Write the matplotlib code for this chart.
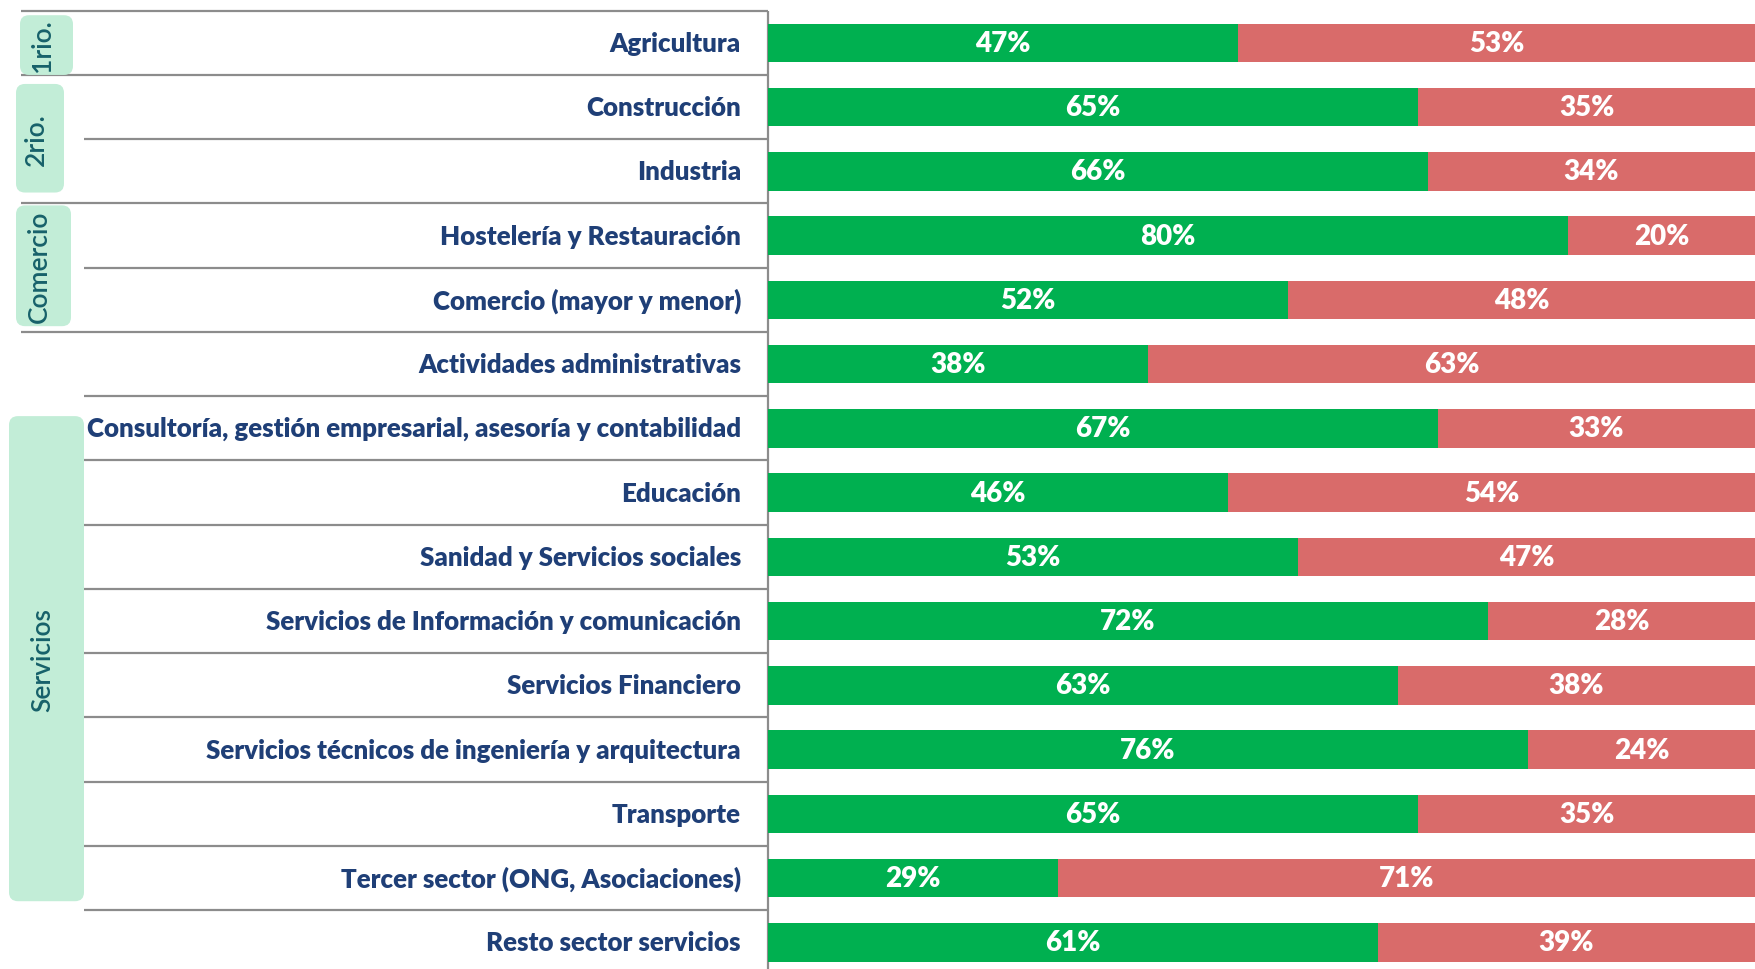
import matplotlib.pyplot as plt
from matplotlib.patches import FancyBboxPatch

plt.rcParams['font.family'] = ['Lato', 'DejaVu Sans']

sectores = ["Agricultura", "Construcción", "Industria", "Hostelería y Restauración",
            "Comercio (mayor y menor)", "Actividades administrativas",
            "Consultoría, gestión empresarial, asesoría y contabilidad", "Educación",
            "Sanidad y Servicios sociales", "Servicios de Información y comunicación",
            "Servicios Financiero", "Servicios técnicos de ingeniería y arquitectura",
            "Transporte", "Tercer sector (ONG, Asociaciones)", "Resto sector servicios"]
si = [47, 65, 66, 80, 52, 38, 67, 46, 53, 72, 63, 76, 65, 29, 61]
no = [53, 35, 34, 20, 48, 63, 33, 54, 47, 28, 38, 24, 35, 71, 39]

grupos = ["1rio.", "2rio.", "Comercio", "Servicios"]
grupo_ini = [0, 1, 3, 6]
grupo_fin = [0, 2, 4, 13]

# layout of the rounded group boxes: (x0, x1) in px, (top inset, bottom inset) in rows
box_x = [(20, 73), (16, 64), (16, 71), (9, 84)]
box_inset = [(0.07, 0.0), (0.14, 0.17), (0.03, 0.09), (0.31, 0.14)]

VERDE = '#00B050'
ROJO = '#D96B6A'
AZUL = '#1F3F77'
TEAL = '#17616A'
CAJA = '#C2EDD7'
GRIS = '#8C8C8C'

W, H = 1755, 970
split = 768
row_px = 64.25
top_px = 11.7
ylim = (-0.5 + (H - top_px) / row_px, -0.5 - top_px / row_px)

fig = plt.figure(figsize=(W / 100, H / 100), dpi=100)
ax_l = fig.add_axes([0, 0, split / W, 1])
ax = fig.add_axes([split / W, 0, 1 - split / W, 1])

rows = list(range(len(sectores)))

# left panel: lines, labels and group boxes
ax_l.set_xlim(0, split)
ax_l.set_ylim(*ylim)
ax_l.axis('off')

bounds = [r - 0.5 for r in range(len(sectores) + 1)]
long_b = [-0.5] + [f + 0.5 for f in grupo_fin[:3]]
for b in bounds:
    x0 = 21 if b in long_b else 84
    ax_l.hlines(b, x0, split, color=GRIS, lw=1.6, clip_on=False)
ax_l.vlines(split, -0.5, ylim[0], color=GRIS, lw=1.6, clip_on=False, zorder=5)

for r, name in zip(rows, sectores):
    ax_l.text(741, r, name, ha='right', va='center', fontsize=18.6,
              fontweight='heavy', color=AZUL)

for g, a, b, (x0, x1), (ti, bi) in zip(grupos, grupo_ini, grupo_fin, box_x, box_inset):
    y0 = a - 0.5 + ti
    y1 = b + 0.5 - bi
    ax_l.add_patch(FancyBboxPatch((x0, y0), x1 - x0, y1 - y0,
                                  boxstyle='round,pad=0,rounding_size=9',
                                  mutation_aspect=1 / row_px,
                                  fc=CAJA, ec='none', zorder=3))
    ax_l.text((x0 + x1) / 2 - 4, (y0 + y1) / 2, g, rotation=90, ha='center',
              va='center', fontsize=19, fontweight='semibold', color=TEAL, zorder=4)

# right panel: stacked bars
ax.set_xlim(0, 98.7)
ax.set_ylim(*ylim)
ax.axis('off')

b1 = ax.barh(rows, si, height=0.6, color=VERDE)
b2 = ax.barh(rows, no, left=si, height=0.6, color=ROJO)
for cont, vals in ((b1, si), (b2, no)):
    ax.bar_label(cont, labels=[f'{v}%' for v in vals], label_type='center',
                 color='white', fontsize=20, fontweight='heavy')

fig.savefig('out.png', dpi=100)
